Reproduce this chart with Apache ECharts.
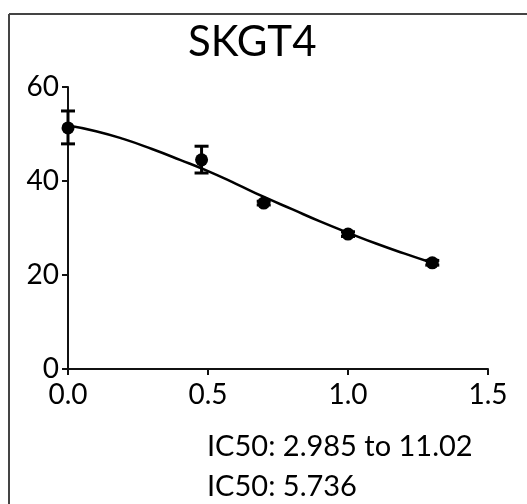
<!DOCTYPE html>
<html>
<head>
<meta charset="utf-8">
<script src="https://cdn.jsdelivr.net/npm/echarts@6/dist/echarts.min.js"></script>
<style>
html, body { margin: 0; padding: 0; background: #fff; }
#main { width: 527px; height: 504px; }
</style>
</head>
<body>
<div id="main"></div>
<script>
// log concentration vs response
var doseX = [0, 0.477, 0.699, 1.0, 1.301];
var meanY = [51.3, 44.5, 35.3, 28.7, 22.6];
var errLow = [47.9, 41.7, 34.9, 28.2, 22.1];
var errHigh = [54.9, 47.4, 35.7, 29.2, 23.1];

// fitted curve
var fitX = [0, 0.1, 0.2, 0.3, 0.4, 0.5, 0.6, 0.7, 0.8, 0.9, 1.0, 1.1, 1.2, 1.3];
var fitY = [51.8, 50.6, 48.9, 46.8, 44.5, 42.1, 39.4, 36.6, 34.0, 31.4, 29.0, 26.7, 24.6, 22.6];

var ic50Range = 'IC50: 2.985 to 11.02';
var ic50Value = 'IC50: 5.736';

var font = 'Lato, "Open Sans", sans-serif';

var myecharts = echarts.init(document.getElementById('main'));

var points = doseX.map(function (x, i) { return [x, meanY[i]]; });
var bars = doseX.map(function (x, i) { return [x, errLow[i], errHigh[i]]; });
var curve = fitX.map(function (x, i) { return [x, fitY[i]]; });

var option = {
    animation: false,
    backgroundColor: '#fff',
    title: {
        text: 'SKGT4',
        left: 183,
        top: 16,
        textStyle: { fontFamily: font, fontSize: 42, fontWeight: 'normal', color: '#000' }
    },
    grid: { left: 68, top: 87, right: 39, bottom: 135 },
    xAxis: {
        type: 'value',
        min: 0,
        max: 1.5,
        interval: 0.5,
        axisLine: { lineStyle: { color: '#111', width: 2 } },
        axisTick: { length: 6, lineStyle: { color: '#111', width: 2 } },
        axisLabel: {
            color: '#000', fontFamily: font, fontSize: 28, margin: 12,
            formatter: function (v) { return v.toFixed(1); }
        },
        splitLine: { show: false }
    },
    yAxis: {
        type: 'value',
        min: 0,
        max: 60,
        interval: 20,
        axisLine: { show: true, lineStyle: { color: '#111', width: 2 } },
        axisTick: { show: true, length: 6, lineStyle: { color: '#111', width: 2 } },
        axisLabel: { color: '#000', fontFamily: font, fontSize: 28, margin: 9 },
        splitLine: { show: false }
    },
    graphic: [
        { type: 'line', shape: { x1: 9, y1: 14, x2: 527, y2: 14 }, style: { stroke: '#444', lineWidth: 2 } },
        { type: 'line', shape: { x1: 9, y1: 14, x2: 9, y2: 504 }, style: { stroke: '#444', lineWidth: 2 } },
        { type: 'text', left: 207, top: 432, style: { text: ic50Range, font: '29px ' + font, fill: '#000' } },
        { type: 'text', left: 207, top: 472, style: { text: ic50Value, font: '29px ' + font, fill: '#000' } }
    ],
    series: [
        {
            name: 'fit',
            type: 'line',
            data: curve,
            smooth: true,
            showSymbol: false,
            lineStyle: { color: '#000', width: 2.5 },
            z: 2
        },
        {
            name: 'error',
            type: 'custom',
            data: bars,
            renderItem: function (params, api) {
                var x = api.value(0);
                var lo = api.coord([x, api.value(1)]);
                var hi = api.coord([x, api.value(2)]);
                var half = 7;
                var st = { stroke: '#000', lineWidth: 3 };
                return {
                    type: 'group',
                    children: [
                        { type: 'line', shape: { x1: lo[0], y1: lo[1], x2: hi[0], y2: hi[1] }, style: st },
                        { type: 'line', shape: { x1: lo[0] - half, y1: lo[1], x2: lo[0] + half, y2: lo[1] }, style: st },
                        { type: 'line', shape: { x1: hi[0] - half, y1: hi[1], x2: hi[0] + half, y2: hi[1] }, style: st }
                    ]
                };
            },
            z: 3
        },
        {
            name: 'mean',
            type: 'scatter',
            data: points,
            symbol: 'circle',
            symbolSize: 13,
            itemStyle: { color: '#000', opacity: 1 },
            z: 4
        }
    ]
};
myecharts.setOption(option);
</script>
</body>
</html>
